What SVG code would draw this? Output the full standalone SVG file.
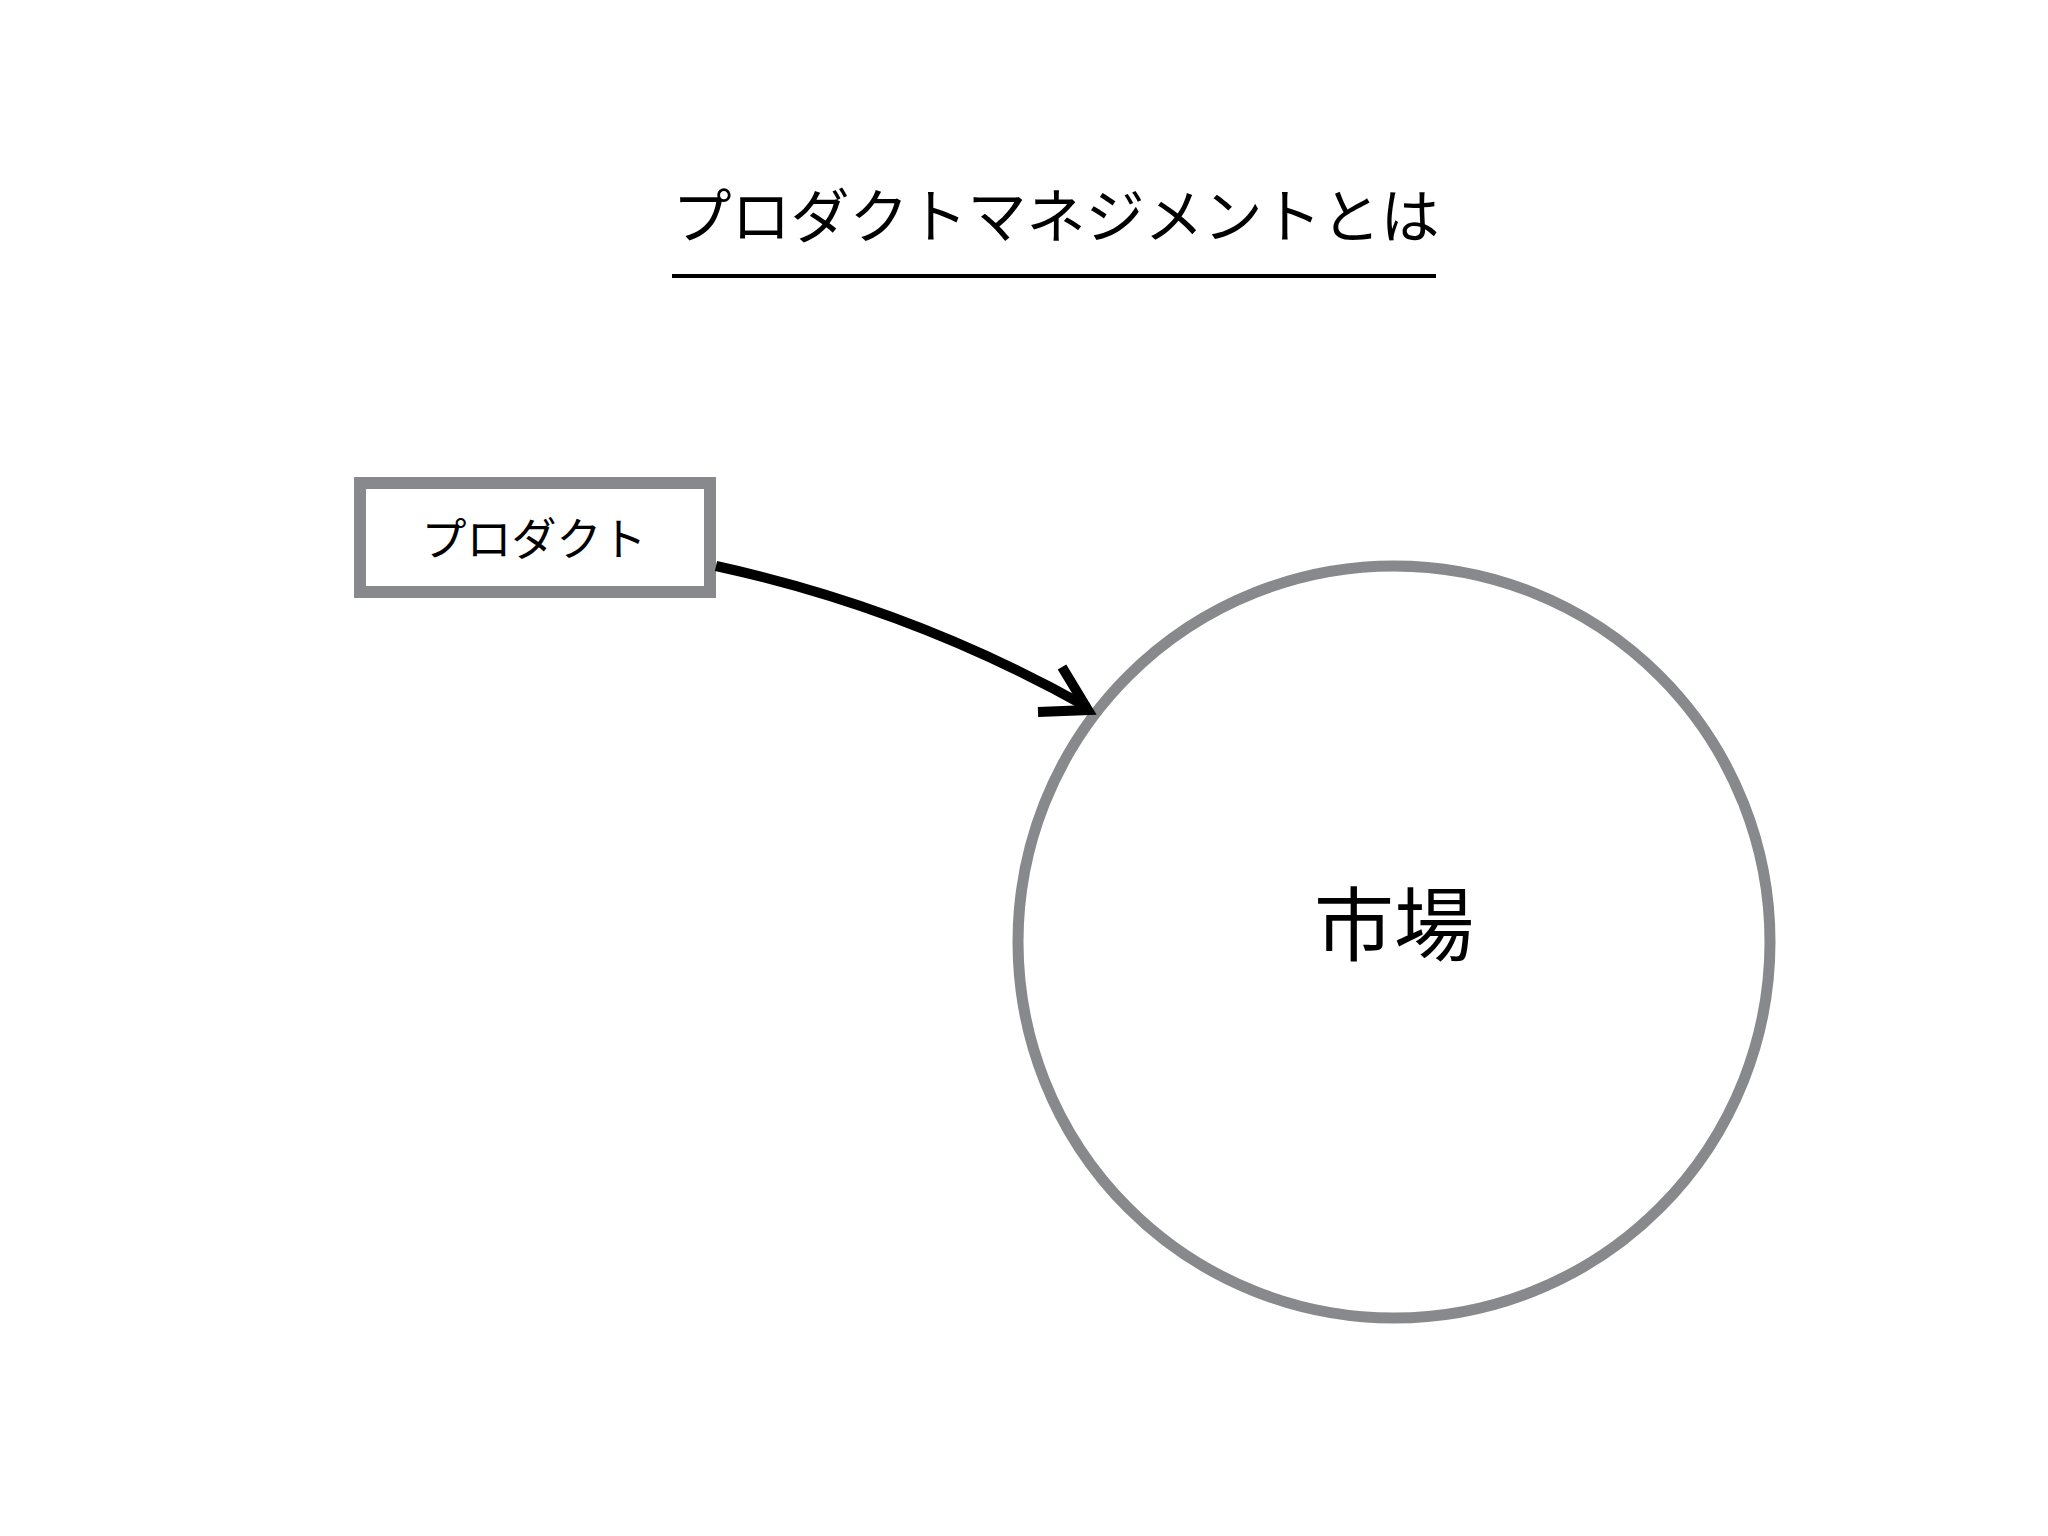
<svg xmlns="http://www.w3.org/2000/svg" width="2048" height="1536" viewBox="0 0 2048 1536">
<style>
text{font-family:"Noto Sans CJK JP","Noto Sans",sans-serif;fill:#000;text-anchor:middle}
.node{fill:#fff;stroke:#88898c}
.conn{fill:none;stroke:#000;stroke-width:10}
</style>
<rect width="2048" height="1536" fill="#fff"/>
<g id="title">
<text x="1056" y="238" font-size="59">プロダクトマネジメントとは</text>
<line x1="672" y1="276" x2="1436" y2="276" stroke="#000" stroke-width="4"/>
</g>
<g id="node-product">
<rect class="node" x="360" y="483" width="350" height="109" stroke-width="12"/>
<text x="534" y="556" font-size="45">プロダクト</text>
</g>
<g id="node-market">
<circle class="node" cx="1394" cy="942" r="376" stroke-width="11"/>
<text x="1394" y="954" font-size="80">市場</text>
</g>
<g id="connectors">
<path class="conn" d="M716,566 Q913,609 1087,707"/>
<path class="conn" d="M1062,667 L1088,710 L1038,712"/>
</g>
</svg>
